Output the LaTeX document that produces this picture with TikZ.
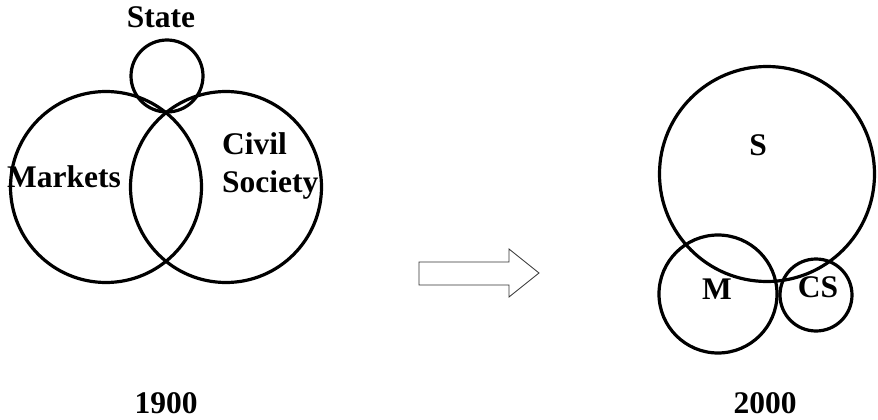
\documentclass[tikz,border=0pt]{standalone}
\usepackage{fontspec}
\setmainfont{Liberation Serif}
\usetikzlibrary{positioning}

\begin{document}
\begin{tikzpicture}[x=1pt,y=-1pt,
    ring/.style={draw,circle,inner sep=0pt,line width=3.2pt},
    word/.style={font=\fontsize{31.5}{38}\selectfont\bfseries,inner sep=0pt}]
    \useasboundingbox (0,0) rectangle (878,420);

    % draw the 1900 circles
    \node[ring,minimum size=72pt]  (state)   at (167,76)  {};
    \node[ring,minimum size=191pt] (markets) at (106,187) {};
    \node[ring,minimum size=191pt] (civil)   at (226,187) {};

    % text of the 1900 circles
    \node[word] (statetxt)   at (161,17)  {State};
    \node[word] (marketstxt) at (64,177)  {Markets};
    \node[word,align=left,anchor=west] (civiltxt) at (222,166) {Civil\\Society};

    % the arrow
    \draw[line width=0.8pt,draw=black!80]
        (419,262) -- (509,262) -- (509,249) -- (539,273)
        -- (509,297) -- (509,285) -- (419,285) -- cycle;

    % draw the 2000 circles
    \node[ring,minimum size=215pt] (s)  at (767,174) {};
    \node[ring,minimum size=118pt] (m)  at (718,294) {};
    \node[ring,minimum size=72pt]  (cs) at (816,295) {};

    % text of the 2000 circles
    \node[word] (stxt)  at (758,145) {S};
    \node[word] (mtxt)  at (717,289) {M};
    \node[word] (cstxt) at (818,287) {CS};

    % years
    \node[word] (y1900) at (166,403) {1900};
    \node[word] (y2000) at (765,403) {2000};
\end{tikzpicture}
\end{document}
